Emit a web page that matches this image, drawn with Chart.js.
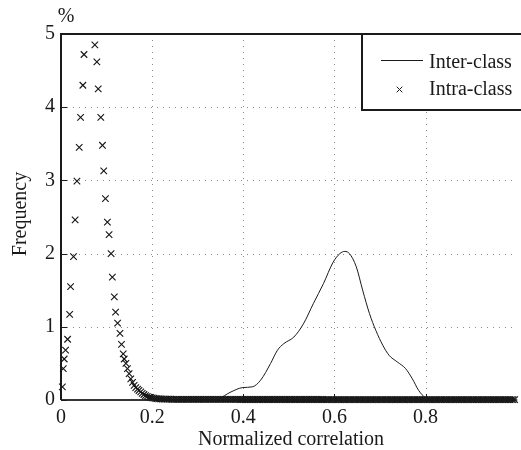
<!DOCTYPE html>
<html>
<head>
<meta charset="utf-8">
<title>Normalized correlation</title>
<script src="https://cdn.jsdelivr.net/npm/chart.js"></script>
<style>
  body { margin: 0; background: #fff; }
</style>
</head>
<body>
<canvas id="chart" width="521" height="450"></canvas>
<script>
// axis ticks
const xTicks = [0, 0.2, 0.4, 0.6, 0.8];
const yTicks = [0, 1, 2, 3, 4, 5];
const X_MAX = 0.997;

// Inter-class curve (frequency in %)
const interX = [0, 0.30, 0.33, 0.345, 0.373, 0.399, 0.42, 0.438, 0.46, 0.475, 0.489, 0.511, 0.532, 0.554, 0.576, 0.597, 0.612, 0.623, 0.633, 0.648, 0.662, 0.677, 0.691, 0.706, 0.72, 0.738, 0.756, 0.771, 0.785, 0.80, 0.82, 0.997];
const interY = [0, 0, 0.003, 0.016, 0.11, 0.17, 0.18, 0.27, 0.50, 0.68, 0.77, 0.86, 1.04, 1.32, 1.59, 1.88, 2.00, 2.03, 2.00, 1.82, 1.50, 1.18, 0.95, 0.75, 0.61, 0.52, 0.43, 0.29, 0.13, 0.03, 0, 0];

// Intra-class crosses (peak region)
const intraX = [0.003, 0.005, 0.007, 0.010, 0.0145, 0.019, 0.021, 0.0275, 0.031, 0.035, 0.040, 0.043, 0.048, 0.0505,
  0.0743, 0.0787, 0.0817, 0.0873, 0.091, 0.0938, 0.0975, 0.1018, 0.1055, 0.1099, 0.1127, 0.117, 0.1198, 0.1242,
  0.1294, 0.1328, 0.1365, 0.1387, 0.1424, 0.1458, 0.1495, 0.1532, 0.157, 0.1605, 0.164, 0.168, 0.1712, 0.175,
  0.1783, 0.182, 0.1855, 0.1892, 0.193, 0.1965, 0.2, 0.204, 0.208, 0.211, 0.2145, 0.218, 0.222];
const intraY = [0.18, 0.43, 0.56, 0.68, 0.83, 1.17, 1.55, 1.96, 2.46, 2.99, 3.45, 3.86, 4.30, 4.72,
  4.85, 4.62, 4.25, 3.86, 3.48, 3.13, 2.75, 2.43, 2.26, 2.00, 1.68, 1.41, 1.20, 1.05,
  0.91, 0.76, 0.63, 0.56, 0.50, 0.43, 0.36, 0.29, 0.24, 0.20, 0.17, 0.15, 0.13, 0.11,
  0.09, 0.075, 0.06, 0.05, 0.04, 0.035, 0.03, 0.025, 0.02, 0.018, 0.016, 0.014, 0.012];

// Intra-class flat tail, one bin every tailStep from tailStart
const tailStart = 0.226;
const tailStep = 0.0037;
const tailY = [
  0.012, 0.012, 0.011, 0.011, 0.011, 0.010, 0.010, 0.010, 0.010, 0.010, 0.010, 0.010, 0.009, 0.009, 0.009, 0.009, 0.009, 0.009, 0.009,
  0.009, 0.009, 0.008, 0.008, 0.008, 0.008, 0.008, 0.008, 0.008, 0.008, 0.008, 0.008, 0.008, 0.008, 0.008, 0.008, 0.008, 0.008, 0.008,
  0.008, 0.008, 0.008, 0.008, 0.008, 0.008, 0.008, 0.007, 0.007, 0.007, 0.007, 0.007, 0.007, 0.007, 0.007, 0.007, 0.007, 0.007, 0.007,
  0.007, 0.007, 0.007, 0.007, 0.007, 0.007, 0.007, 0.007, 0.007, 0.007, 0.007, 0.007, 0.007, 0.007, 0.007, 0.007, 0.007, 0.007, 0.007,
  0.007, 0.007, 0.007, 0.007, 0.007, 0.007, 0.007, 0.007, 0.007, 0.007, 0.007, 0.007, 0.007, 0.007, 0.007, 0.007, 0.007, 0.007, 0.007,
  0.006, 0.006, 0.006, 0.006, 0.006, 0.006, 0.006, 0.006, 0.006, 0.006, 0.006, 0.006, 0.006, 0.006, 0.006, 0.006, 0.006, 0.006, 0.006,
  0.006, 0.006, 0.006, 0.006, 0.006, 0.006, 0.006, 0.006, 0.006, 0.006, 0.006, 0.006, 0.006, 0.006, 0.006, 0.006, 0.006, 0.006, 0.006,
  0.005, 0.005, 0.005, 0.005, 0.005, 0.005, 0.005, 0.005, 0.005, 0.005, 0.005, 0.005, 0.005, 0.005, 0.005, 0.005, 0.005, 0.005, 0.005,
  0.005, 0.005, 0.005, 0.005, 0.005, 0.005, 0.005, 0.005, 0.005, 0.005, 0.005, 0.005, 0.005, 0.005, 0.005, 0.005, 0.005, 0.005, 0.005,
  0.005, 0.005, 0.005, 0.005, 0.005, 0.005, 0.005, 0.005, 0.005, 0.005, 0.005, 0.005, 0.005, 0.005, 0.005, 0.005, 0.005, 0.005, 0.005,
  0.005, 0.005, 0.005, 0.005, 0.005, 0.005, 0.005, 0.005, 0.005, 0.005, 0.005, 0.005, 0.005, 0.005, 0.005, 0.005, 0.005, 0.005, 0.005
];

const FONT = '"Liberation Serif", "DejaVu Serif", serif';
const INK = '#1a1a1a';

const interData = interX.map((x, i) => ({ x, y: interY[i] }));
const intraData = intraX.map((x, i) => ({ x, y: intraY[i] }))
  .concat(tailY.map((y, i) => ({ x: tailStart + i * tailStep, y })));

function cross(ctx, x, y, r) {
  ctx.beginPath();
  ctx.moveTo(x - r, y - r); ctx.lineTo(x + r, y + r);
  ctx.moveTo(x - r, y + r); ctx.lineTo(x + r, y - r);
  ctx.stroke();
}

// dotted grid under the data
const gridPlugin = {
  id: 'grid',
  beforeDatasetsDraw(chart) {
    const { ctx, chartArea: a, scales: { x, y } } = chart;
    ctx.save();
    ctx.strokeStyle = '#8a8a8a';
    ctx.lineWidth = 1;
    ctx.setLineDash([1, 5]);
    xTicks.slice(1).forEach(v => {
      const px = Math.round(x.getPixelForValue(v)) + 0.5;
      ctx.beginPath(); ctx.moveTo(px, a.top); ctx.lineTo(px, a.bottom); ctx.stroke();
    });
    yTicks.slice(1, -1).forEach(v => {
      const py = Math.round(y.getPixelForValue(v)) + 0.5;
      ctx.beginPath(); ctx.moveTo(a.left, py); ctx.lineTo(a.right, py); ctx.stroke();
    });
    ctx.restore();
  }
};

// frame, tick marks, titles and legend box on top
const framePlugin = {
  id: 'frame',
  afterDatasetsDraw(chart) {
    const { ctx, chartArea: a, scales: { x, y } } = chart;
    ctx.save();
    ctx.strokeStyle = INK;
    ctx.setLineDash([]);

    // tick marks pointing inward
    ctx.lineWidth = 1;
    yTicks.forEach(v => {
      const py = Math.round(y.getPixelForValue(v)) + 0.5;
      ctx.beginPath(); ctx.moveTo(a.left, py); ctx.lineTo(a.left + 6, py); ctx.stroke();
    });
    xTicks.forEach(v => {
      const px = Math.round(x.getPixelForValue(v)) + 0.5;
      ctx.beginPath(); ctx.moveTo(px, a.bottom); ctx.lineTo(px, a.bottom - 6); ctx.stroke();
    });

    // axes lines
    ctx.lineWidth = 2;
    ctx.beginPath();
    ctx.moveTo(a.left, a.bottom); ctx.lineTo(a.left, a.top);
    ctx.lineTo(a.right + 2, a.top);
    ctx.stroke();
    ctx.lineWidth = 1.5;
    ctx.beginPath(); ctx.moveTo(a.left, a.bottom); ctx.lineTo(a.right + 2, a.bottom); ctx.stroke();

    // legend
    ctx.fillStyle = '#fff';
    ctx.fillRect(362, a.top, 170, 110 - a.top);
    ctx.lineWidth = 2;
    ctx.strokeRect(362, a.top, 170, 110 - a.top);
    ctx.lineWidth = 1;
    ctx.beginPath(); ctx.moveTo(381, 60.5); ctx.lineTo(423, 60.5); ctx.stroke();
    cross(ctx, 399.5, 89.5, 2.8);
    ctx.fillStyle = INK;
    ctx.font = '20px ' + FONT;
    ctx.textAlign = 'left';
    ctx.textBaseline = 'middle';
    ctx.fillText('Inter-class', 429, 62.5);
    ctx.fillText('Intra-class', 429, 90);

    // axis titles
    ctx.textAlign = 'center';
    ctx.fillText('%', 66, 17);
    ctx.fillText('Normalized correlation', 291, 440);
    ctx.translate(21, 214);
    ctx.rotate(-Math.PI / 2);
    ctx.fillText('Frequency', 0, 0);
    ctx.restore();
  }
};

new Chart(document.getElementById('chart'), {
  type: 'scatter',
  data: {
    datasets: [
      {
        label: 'Inter-class',
        data: interData,
        showLine: true,
        borderColor: INK,
        borderWidth: 1,
        pointRadius: 0,
        cubicInterpolationMode: 'monotone',
        clip: false
      },
      {
        label: 'Intra-class',
        data: intraData,
        pointStyle: 'crossRot',
        pointRadius: 4.6,
        borderColor: '#151515',
        borderWidth: 1.1,
        showLine: false,
        clip: false
      }
    ]
  },
  options: {
    responsive: false,
    devicePixelRatio: 1,
    animation: false,
    layout: { padding: { top: 34, right: 0, left: 0, bottom: 0 } },
    plugins: { legend: { display: false }, tooltip: { enabled: false } },
    scales: {
      x: {
        type: 'linear',
        min: 0,
        max: X_MAX,
        grid: { display: false, drawTicks: false },
        border: { display: false },
        afterBuildTicks: s => { s.ticks = xTicks.map(v => ({ value: v })); },
        afterFit: s => { s.height = 50; },
        ticks: {
          padding: 6,
          color: INK,
          font: { family: FONT, size: 20 },
          maxRotation: 0,
          callback: v => (v === 0 ? '0' : v.toFixed(1))
        }
      },
      y: {
        min: 0,
        max: 5,
        grid: { display: false, drawTicks: false },
        border: { display: false },
        afterBuildTicks: s => { s.ticks = yTicks.map(v => ({ value: v })); },
        afterFit: s => { s.width = 61; },
        ticks: {
          padding: 6,
          color: INK,
          font: { family: FONT, size: 20 }
        }
      }
    }
  },
  plugins: [gridPlugin, framePlugin]
});
</script>
</body>
</html>
